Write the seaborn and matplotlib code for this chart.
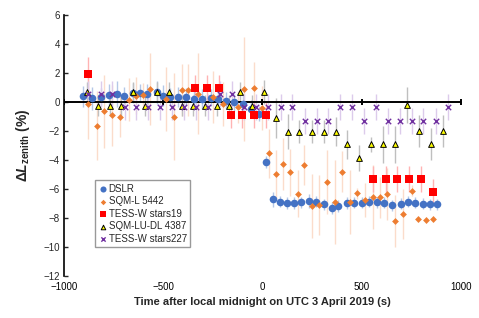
import numpy as np
import pandas as pd
import matplotlib
matplotlib.use('Agg')
import matplotlib.pyplot as plt
import seaborn as sns

# DSLR
dslr_t = [-903, -857, -815, -772, -735, -696, -654, -617, -580, -533, -500, -466, -424, -385, -344, -303,
          -261, -223, -184, -142, -100, -56, -18, 18, 51, 88, 123, 157, 194, 233, 270, 308, 348, 382, 424,
          459, 500, 537, 575, 614, 651, 696, 733, 770, 809, 846, 879]
dslr_v = [0.39, 0.25, 0.34, 0.51, 0.57, 0.44, 0.62, 0.62, 0.57, 0.67, 0.44, 0.34, 0.34, 0.34, 0.21, 0.21,
          0.30, 0.21, 0.10, -0.02, -0.14, -0.45, -0.80, -4.14, -6.71, -6.87, -6.97, -6.97, -6.92, -6.83, -6.87,
          -7.06, -7.29, -7.17, -6.97, -6.94, -6.94, -6.87, -6.92, -6.94, -7.13, -7.01, -6.87, -6.94, -7.01,
          -7.06, -7.06]
dslr_e = [0.7, 0.8, 0.6, 0.7, 0.9, 0.6, 0.7, 0.6, 0.7, 0.8, 0.7, 0.6, 0.7, 0.6, 0.6, 0.7,
          0.6, 0.7, 0.6, 0.6, 0.7, 0.6, 0.5, 0.4, 0.5, 0.4, 0.4, 0.4, 0.4, 0.5, 0.4, 0.4, 0.4, 0.4, 0.4,
          0.4, 0.4, 0.4, 0.4, 0.4, 0.4, 0.4, 0.4, 0.4, 0.4, 0.4, 0.4]

# SQM-L 5442
sqml_t = [-881, -835, -798, -756, -717, -675, -637, -603, -567, -488, -444, -407, -377, -327, -247, -200,
          -125, -92, -43, -4, 35, 66, 105, 139, 177, 211, 248, 286, 327, 365, 399, 441, 478, 516, 555, 592,
          629, 668, 710, 752, 785, 824, 861]
sqml_v = [-0.14, -1.63, -0.64, -0.92, -1.01, 0.16, 0.44, 0.51, 0.90, 0.21, -1.01, 0.85, 0.85, 0.57, 0.32,
          -0.14, -0.37, 0.88, 0.94, -0.41, -3.54, -4.99, -4.30, -4.85, -6.32, -4.34, -7.17, -7.10, -5.52,
          -6.87, -4.80, -6.92, -6.30, -6.76, -6.57, -6.57, -6.35, -8.18, -7.72, -6.11, -8.07, -8.14, -8.07]
sqml_e = [2.4, 2.4, 2.5, 2.1, 1.4, 1.5, 1.3, 0.8, 2.5, 2.2, 3.0, 1.8, 1.8, 2.8, 1.8, 1.5,
          1.1, 3.6, 1.8, 1.5, 1.7, 1.7, 1.8, 1.6, 1.6, 1.4, 2.2, 2.1, 2.2, 2.9, 1.4, 2.2, 0.4, 1.2, 2.2, 1.4,
          1.8, 1.8, 1.7, 0.4, 0.2, 0.2, 0.2]

# TESS-W stars19
t19_t = [-881, -339, -280, -218, -161, -103, -43, 18, 555, 621, 679, 738, 798, 857]
t19_v = [1.93, 0.97, 0.97, 0.97, -0.87, -0.87, -0.87, -0.90, -5.33, -5.33, -5.33, -5.33, -5.33, -6.21]
t19_e = [1.2, 0.9, 0.9, 0.9, 0.9, 0.9, 0.9, 0.9, 0.9, 0.9, 0.9, 0.9, 0.9, 0.9]

# SQM-LU-DL 4387
sqmlu_t = [-886, -830, -768, -713, -651, -592, -530, -471, -407, -348, -290, -228, -169, -111, -52, 9,
           66, 127, 185, 248, 310, 369, 427, 487, 548, 609, 668, 726, 788, 847, 909]
sqmlu_v = [0.67, -0.25, -0.25, -0.25, 0.67, -0.25, 0.67, 0.67, -0.25, -0.25, -0.25, -0.25, -0.25, 0.67,
           -0.25, 0.69, -1.11, -2.05, -2.05, -2.05, -2.05, -2.05, -2.92, -3.83, -2.92, -2.92, -2.92, -0.21,
           -2.02, -2.92, -2.02]
sqmlu_e = [0.7, 0.7, 0.7, 0.7, 0.7, 0.7, 0.7, 0.7, 0.7, 0.7, 0.7, 0.7, 0.7, 0.7, 0.7, 0.8,
           1.4, 1.2, 0.8, 0.8, 0.8, 1.0, 1.0, 0.9, 0.5, 1.3, 1.3, 1.26, 1.1, 1.1, 1.1]

# TESS-W stars227
t227_t = [-880, -816, -757, -695, -636, -576, -517, -455, -396, -337, -275, -215, -156, -93, -34, 30,
          93, 150, 214, 273, 332, 390, 449, 511, 572, 631, 693, 752, 810, 873, 933]
t227_v = [0.57, 0.57, 0.57, -0.34, -0.34, -0.34, -0.34, -0.34, -0.34, -0.34, -0.34, 0.57, 0.57, -0.34,
          -0.34, -0.36, -0.37, -0.37, -1.29, -1.29, -1.29, -0.37, -0.37, -1.29, -0.37, -1.29, -1.29, -1.29,
          -1.29, -1.29, -0.37]
t227_e = [0.9] * len(t227_t)

xticks = [-1000, -500, 0, 500, 1000]
yticks = [-12, -10, -8, -6, -4, -2, 0, 2, 4, 6]

sns.set_style('white')
plt.rcParams['font.family'] = ['Liberation Sans', 'DejaVu Sans']
plt.rcParams['mathtext.fontset'] = 'custom'
plt.rcParams['mathtext.rm'] = 'Liberation Sans'
plt.rcParams['mathtext.bf'] = 'Liberation Sans:bold'
plt.rcParams['mathtext.it'] = 'Liberation Sans:italic'
plt.rcParams['mathtext.bfit'] = 'Liberation Sans:bold:italic'

fig = plt.figure(figsize=(4.79, 3.18), dpi=100)
ax = fig.add_axes([0.1336, 0.132, 0.8288, 0.8208])

series = [
    ('DSLR', dslr_t, dslr_v, dslr_e, '#4472C4', '#B4C7E7', 'o', 30, None),
    ('SQM-L 5442', sqml_t, sqml_v, sqml_e, '#ED7D31', '#FBDCCB', 'D', 12, None),
    ('TESS-W stars19', t19_t, t19_v, t19_e, '#FF0000', '#FFB3B3', 's', 30, None),
    ('SQM-LU-DL 4387', sqmlu_t, sqmlu_v, sqmlu_e, '#FFFF00', '#BFBFBF', '^', 17, 'black'),
    ('TESS-W stars227', t227_t, t227_v, t227_e, '#7030A0', '#DCCBEB', 'X', 15, None),
]

for name, t, v, e, col, ecol, mk, sz, edge in series:
    df = pd.DataFrame({'t': t, 'v': v, 'e': e})
    ax.errorbar(df['t'], df['v'], yerr=df['e'], fmt='none', ecolor=ecol, elinewidth=1.0, zorder=1)
for i, (name, t, v, e, col, ecol, mk, sz, edge) in enumerate(series):
    df = pd.DataFrame({'t': t, 'v': v})
    if mk == 'X':
        sns.scatterplot(data=df, x='t', y='v', ax=ax, marker='x', s=sz, color=col, linewidth=1.0,
                        label=name, zorder=4 + i)
    else:
        sns.scatterplot(data=df, x='t', y='v', ax=ax, marker=mk, s=sz, color=col,
                        edgecolor=edge if edge else col, linewidth=0.7 if edge else 0,
                        label=name, zorder=4 + i)

# zero line with tick marks
ax.axhline(0, color='black', lw=1.4, zorder=3)
ax.plot(xticks, [0] * len(xticks), linestyle='none', marker='|', ms=5, mew=1.4, color='black', zorder=3)

ax.set_xlim(-1000, 1000)
ax.set_ylim(-12, 6)
ax.set_xticks(xticks)
ax.set_yticks(yticks)
ax.tick_params(axis='x', length=0, labelsize=7, pad=4, colors='black')
ax.tick_params(axis='y', direction='in', length=3, width=1, labelsize=7, pad=3, left=True)
for s in ['top', 'right', 'bottom']:
    ax.spines[s].set_visible(False)
ax.spines['left'].set_color('black')
ax.spines['left'].set_linewidth(1.2)

ax.set_xlabel('Time after local midnight on UTC 3 April 2019 (s)', fontsize=8, fontweight='bold', labelpad=4)
ax.set_ylabel(r'$\mathbf{\Delta}\mathbfit{L}_{\mathbf{zenith}}$ (%)', fontsize=10, fontweight='bold', labelpad=8)

leg = ax.legend(loc='upper left', bbox_to_anchor=(0.066, 0.385), fontsize=7, frameon=True, fancybox=False,
                edgecolor='#808080', handletextpad=0.05, handlelength=1.0, labelspacing=0.25,
                borderpad=0.35, markerscale=0.8)
leg.get_frame().set_linewidth(1.0)

fig.savefig('out.png', dpi=100)
